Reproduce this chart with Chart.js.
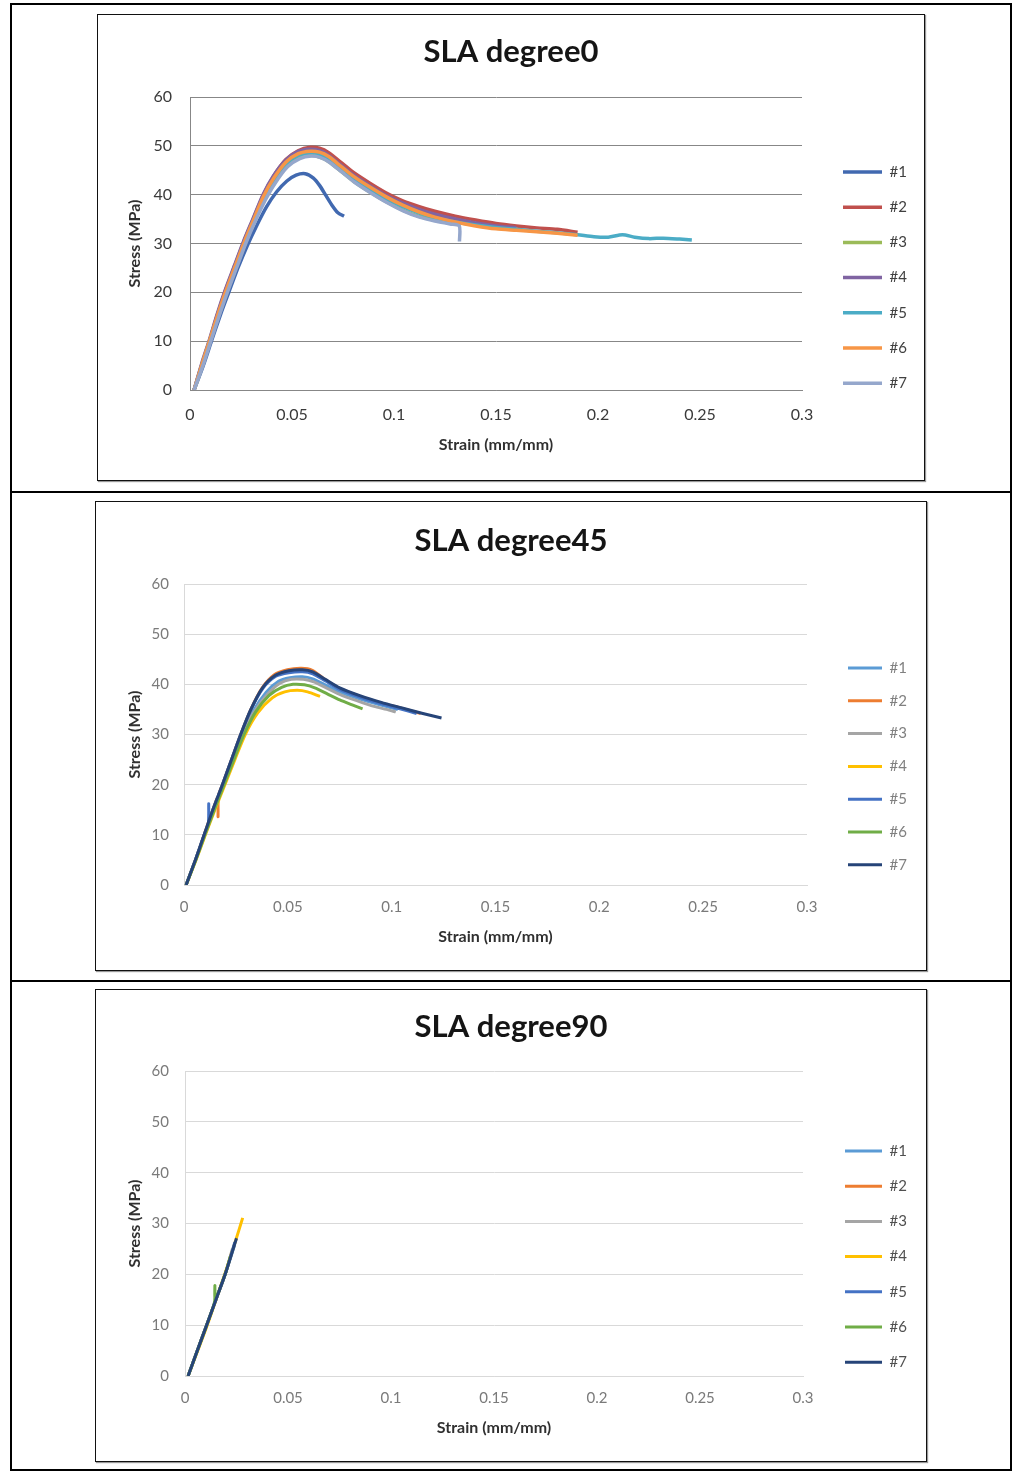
<!DOCTYPE html>
<html>
<head>
<meta charset="utf-8">
<script src="https://cdn.jsdelivr.net/npm/chart.js@4.4.1/dist/chart.umd.min.js"></script>
<style>
    body { margin: 0; background: #fff; width: 1027px; height: 1473px; position: relative; }
    .frame { position: absolute; left: 10px; top: 3px; width: 998px; height: 1464px; border: 2px solid #000; }
    .row-line { position: absolute; left: 10px; width: 1002px; height: 2px; background: #000; }
    .box { position: absolute; border: 1px solid #111; box-shadow: 1px 1px 1px #999; background: #fff; }
    .box canvas { display: block; }
</style>
</head>
<body>
<div class="frame"></div>
<div class="row-line" style="top:491px"></div>
<div class="row-line" style="top:980px"></div>
<div class="box" style="left:97px;top:14px"><canvas id="deg0Chart" width="826" height="465"></canvas></div>
<div class="box" style="left:95px;top:501px"><canvas id="deg45Chart" width="830" height="468"></canvas></div>
<div class="box" style="left:95px;top:989px"><canvas id="deg90Chart" width="830" height="471"></canvas></div>

<script>
// Datos: pares [deformación (mm/mm), esfuerzo (MPa)]
const seriesLabels = ['#1', '#2', '#3', '#4', '#5', '#6', '#7'];
const xTickValues = [0, 0.05, 0.1, 0.15, 0.2, 0.25, 0.3];
const xTickLabels = ['0', '0.05', '0.1', '0.15', '0.2', '0.25', '0.3'];
const yTickValues = [0, 10, 20, 30, 40, 50, 60];

// SLA degree0
const deg0_1 = [[0.002,0],[0.0065,5],[0.0105,10],[0.015,15.5],[0.019,20],[0.0235,25],[0.028,29.5],[0.0325,33.5],[0.0375,37.5],[0.0425,40.6],[0.0475,42.8],[0.052,44],[0.0565,44.3],[0.0605,43.4],[0.0635,41.9],[0.0665,39.9],[0.0695,37.9],[0.0725,36.3],[0.0755,35.6]];
const deg0_2 = [[0.002,0],[0.006,5.5],[0.0095,10],[0.0135,15.5],[0.0175,20.5],[0.022,25.5],[0.0265,30.5],[0.031,35],[0.036,40],[0.041,43.8],[0.047,47.2],[0.053,49],[0.059,49.7],[0.0635,49.5],[0.068,48.6],[0.074,46.6],[0.08,44.6],[0.088,42.4],[0.096,40.4],[0.104,38.8],[0.112,37.6],[0.12,36.6],[0.13,35.6],[0.14,34.8],[0.15,34.1],[0.16,33.6],[0.17,33.2],[0.18,32.9],[0.19,32.3]];
const deg0_3 = [[0.002,0],[0.0062,5.2],[0.0098,10],[0.014,15.2],[0.018,20],[0.0225,25],[0.027,30],[0.0315,34.5],[0.0365,39],[0.0415,42.8],[0.0475,46],[0.0535,47.6],[0.059,48],[0.0635,47.7],[0.068,46.8],[0.074,44.8],[0.08,42.8],[0.088,40.6],[0.096,38.6],[0.104,36.9],[0.112,35.6],[0.12,34.8],[0.126,34.3]];
const deg0_4 = [[0.002,0],[0.0058,5.5],[0.0093,10],[0.0133,15.5],[0.0173,20.5],[0.0218,25.5],[0.0263,30.5],[0.0308,35],[0.0358,40],[0.0408,43.8],[0.0468,47],[0.0528,48.8],[0.0585,49.3],[0.063,49.1],[0.0675,48.2],[0.0735,46.2],[0.0795,44.2],[0.0875,42],[0.0955,40],[0.1035,38.4],[0.1115,37.1],[0.12,36],[0.13,35],[0.14,34.2],[0.15,33.6],[0.16,33.2]];
const deg0_5 = [[0.002,0],[0.006,5.3],[0.0096,10],[0.0137,15.3],[0.0178,20.2],[0.0222,25.2],[0.0267,30.2],[0.0312,34.7],[0.0362,39.5],[0.0412,43.2],[0.0472,46.4],[0.0532,48.1],[0.059,48.6],[0.0635,48.3],[0.068,47.4],[0.074,45.4],[0.08,43.4],[0.088,41.2],[0.096,39.2],[0.104,37.6],[0.112,36.3],[0.12,35.3],[0.13,34.4],[0.14,33.8],[0.15,33.3],[0.16,32.9],[0.17,32.5],[0.18,32.2],[0.19,31.8],[0.198,31.4],[0.205,31.3],[0.212,31.8],[0.218,31.3],[0.225,31],[0.232,31.1],[0.24,30.9],[0.246,30.7]];
const deg0_6 = [[0.002,0],[0.006,5.4],[0.0095,10],[0.0136,15.4],[0.0176,20.3],[0.0221,25.3],[0.0266,30.3],[0.0311,34.8],[0.0361,39.7],[0.0411,43.4],[0.0471,46.7],[0.0531,48.4],[0.059,48.9],[0.0635,48.7],[0.068,47.8],[0.074,45.8],[0.08,43.8],[0.088,41.6],[0.096,39.6],[0.104,37.9],[0.112,36.5],[0.12,35.4],[0.13,34.4],[0.14,33.6],[0.15,33],[0.16,32.7],[0.17,32.4],[0.18,32.1],[0.19,31.7]];
const deg0_7 = [[0.002,0],[0.0065,5.2],[0.0102,10],[0.0143,15.2],[0.0183,20],[0.0228,25],[0.0273,30],[0.0318,34.4],[0.0368,38.8],[0.0418,42.4],[0.0478,45.7],[0.0538,47.4],[0.0595,47.9],[0.064,47.6],[0.0685,46.6],[0.0745,44.6],[0.0805,42.6],[0.0885,40.4],[0.0965,38.4],[0.1045,36.7],[0.1125,35.4],[0.12,34.6],[0.1275,34],[0.132,33.6],[0.1321,30.4]];

// SLA degree45
const deg45_1 = [[0.001,0],[0.0055,5],[0.0098,10],[0.0142,15],[0.0188,20],[0.0233,25],[0.028,30],[0.0332,34.6],[0.0395,38.4],[0.0455,40.6],[0.051,41.3],[0.057,41.5],[0.062,41.1],[0.068,39.9],[0.075,38.5],[0.083,37.3],[0.091,36.3],[0.098,35.5],[0.103,35]];
const deg45_2 = [[0.001,0],[0.0055,5],[0.0097,10],[0.0139,15],[0.0162,17.4],[0.0164,13.6],[0.0166,17.8],[0.0185,20],[0.0229,25],[0.0273,30],[0.0322,35],[0.0375,39.2],[0.0435,41.9],[0.0498,42.9],[0.0565,43.2],[0.0618,42.8],[0.0678,41],[0.0748,39.2],[0.0848,37.6],[0.0948,36.3],[0.105,35.2],[0.114,34.2]];
const deg45_3 = [[0.001,0],[0.0056,5],[0.0099,10],[0.0143,15],[0.019,20],[0.0236,25],[0.0283,30],[0.0336,34.4],[0.0402,38],[0.0462,40.2],[0.0517,41],[0.0575,41],[0.0625,40.5],[0.0685,39.3],[0.0755,37.9],[0.0835,36.7],[0.0915,35.6],[0.0975,35],[0.102,34.5]];
const deg45_4 = [[0.001,0],[0.0058,5],[0.0103,10],[0.0149,15],[0.0197,20],[0.0245,25],[0.0295,30],[0.0355,34.3],[0.0425,37.3],[0.0485,38.5],[0.0545,38.8],[0.0595,38.5],[0.0655,37.6]];
const deg45_5 = [[0.001,0],[0.0055,5],[0.0097,10],[0.0117,12.2],[0.0119,16.2],[0.0121,12.6],[0.0139,15],[0.0185,20],[0.0229,25],[0.0273,30],[0.0323,35],[0.038,39.2],[0.0442,41.6],[0.0505,42.3],[0.057,42.5],[0.062,42.1],[0.068,40.7],[0.075,39],[0.085,37.4],[0.095,36.1],[0.104,35.1],[0.112,34.2]];
const deg45_6 = [[0.001,0],[0.0057,5],[0.0101,10],[0.0146,15],[0.0193,20],[0.024,25],[0.0289,30],[0.0345,34.5],[0.041,37.8],[0.047,39.4],[0.0525,40],[0.058,39.9],[0.063,39.3],[0.069,38.1],[0.075,36.9],[0.081,35.9],[0.086,35.1]];
const deg45_7 = [[0.001,0],[0.0055,5],[0.0097,10],[0.0139,15],[0.0185,20],[0.0229,25],[0.0273,30],[0.0322,35],[0.0378,39.3],[0.044,41.8],[0.0505,42.7],[0.057,42.9],[0.062,42.5],[0.068,41],[0.075,39.3],[0.085,37.7],[0.095,36.4],[0.105,35.3],[0.115,34.2],[0.124,33.3]];

// SLA degree90
const deg90_1 = [[0.0015,0],[0.006,5],[0.0105,10],[0.015,15],[0.0195,20],[0.024,25.6]];
const deg90_2 = [[0.0015,0],[0.006,5],[0.0105,10],[0.015,15],[0.0195,20],[0.0225,24]];
const deg90_3 = [[0.0015,0],[0.006,5],[0.0105,10],[0.015,15],[0.0195,20],[0.023,25]];
const deg90_4 = [[0.0015,0],[0.0062,5],[0.0108,10],[0.0153,15.3],[0.0197,20.5],[0.0241,26],[0.028,31.1]];
const deg90_5 = [[0.0015,0],[0.006,5],[0.0105,10],[0.015,15],[0.0195,20],[0.0242,26.3]];
const deg90_6 = [[0.0015,0],[0.006,5],[0.0105,10],[0.0143,14.5],[0.0145,17.8],[0.0147,15.1],[0.0195,20],[0.022,23.5]];
const deg90_7 = [[0.0015,0],[0.006,5],[0.0105,10],[0.015,15],[0.0195,20],[0.025,27.1]];

// Colores (paleta Excel 2010 arriba, Excel 2013 en los otros dos)
const colors2010 = ['#4169b0', '#c0504d', '#9bbb59', '#8064a2', '#4bacc6', '#f79646', '#95a7cc'];
const colors2013 = ['#5b9bd5', '#ed7d31', '#a5a5a5', '#ffc000', '#4472c4', '#70ad47', '#264478'];


// Función que crea un panel del gráfico con el título, las series y el aspecto dados
function drawPanel(canvasId, title, series, colors, look) {
    const canvas = document.getElementById(canvasId);
    const W = canvas.width;
    const H = canvas.height;
    const legendPad = look.legendStep - look.legendFont;
    const titleLH = look.titleFont * 1.2;
    const titleTop = look.titleY - titleLH / 2;
    const tickLH = look.tickFont * 1.2;
    const axisLH = look.axisFont * 1.2;

    return new Chart(canvas.getContext('2d'), {
        type: 'line',
        data: {
            datasets: series.map((pts, i) => ({
                label: seriesLabels[i],
                data: pts.map(p => ({ x: p[0], y: p[1] })),
                borderColor: colors[i],
                backgroundColor: colors[i],
                borderWidth: look.lineWidth,
                pointRadius: 0,
                tension: 0.25,
                fill: false,
                order: series.length - i
            }))
        },
        options: {
            responsive: false,
            animation: false,
            layout: { padding: 0 },
            plugins: {
                title: {
                    display: true,
                    text: title,
                    color: '#151515',
                    font: { family: 'Lato', size: look.titleFont, weight: 'bold' },
                    // el título ocupa todo el espacio sobre el área del gráfico
                    padding: { top: titleTop, bottom: look.plot.top - titleTop - titleLH }
                },
                legend: {
                    position: 'right',
                    align: 'start',
                    reverse: true,
                    title: {
                        display: true,
                        text: '',
                        font: { size: 1 },
                        padding: { top: 0, bottom: look.legendFirst - legendPad - look.legendFont / 2 - 1.2 }
                    },
                    labels: {
                        usePointStyle: true,
                        pointStyle: 'line',
                        pointStyleWidth: look.lineLen,
                        padding: legendPad,
                        color: look.legendColor,
                        font: { family: 'Lato', size: look.legendFont }
                    }
                },
                tooltip: { enabled: false }
            },
            scales: {
                x: {
                    type: 'linear',
                    min: 0,
                    max: 0.3,
                    grid: { display: false, drawTicks: false },
                    border: { display: true, color: look.gridColor },
                    afterBuildTicks: s => { s.ticks = xTickValues.map(v => ({ value: v })); },
                    ticks: {
                        callback: (v, i) => xTickLabels[i],
                        color: look.tickColor,
                        padding: look.xLabelY - look.plot.bottom - tickLH / 2,
                        maxRotation: 0,
                        font: { family: 'Lato', size: look.tickFont }
                    },
                    title: {
                        display: true,
                        text: 'Strain (mm/mm)',
                        color: '#303030',
                        font: { family: 'Lato', size: look.axisFont, weight: 'bold' },
                        padding: { top: 0, bottom: H - look.xTitleY - axisLH / 2 }
                    },
                    afterFit: s => {
                        s.height = H - look.plot.bottom;
                        s.paddingRight = W - look.plot.right;
                    }
                },
                y: {
                    type: 'linear',
                    min: 0,
                    max: 60,
                    grid: { color: look.gridColor, drawTicks: false },
                    border: { display: true, color: look.gridColor },
                    afterBuildTicks: s => { s.ticks = yTickValues.map(v => ({ value: v })); },
                    ticks: {
                        color: look.tickColor,
                        padding: look.yLabelPad,
                        font: { family: 'Lato', size: look.tickFont }
                    },
                    title: {
                        display: true,
                        text: 'Stress (MPa)',
                        color: '#303030',
                        font: { family: 'Lato', size: look.axisFont, weight: 'bold' },
                        padding: { top: look.yTitleX - axisLH / 2, bottom: 0 }
                    },
                    afterFit: s => {
                        s.width = look.plot.left;
                        s.paddingTop = 0;
                    }
                },
                // eje vacío que separa la leyenda del área del gráfico
                gap: {
                    type: 'linear',
                    position: 'right',
                    display: true,
                    grid: { display: false, drawTicks: false },
                    border: { display: false },
                    ticks: { display: false },
                    afterFit: s => { s.width = look.lineStart - look.plot.right - legendPad; }
                }
            }
        }
    });
}


// Panel superior: SLA degree0
drawPanel('deg0Chart', 'SLA degree0',
    [deg0_1, deg0_2, deg0_3, deg0_4, deg0_5, deg0_6, deg0_7], colors2010, {
        plot: { left: 92, right: 704, top: 82, bottom: 375 },
        titleY: 37, titleFont: 31,
        legendFirst: 157, legendStep: 35.2, legendFont: 15, lineStart: 745, lineLen: 39, legendColor: '#404040',
        tickFont: 16, tickColor: '#3a3a3a', axisFont: 16,
        yTitleX: 37, yLabelPad: 18, xLabelY: 400, xTitleY: 430,
        gridColor: '#878787', lineWidth: 3.5
    });

// Panel central: SLA degree45
drawPanel('deg45Chart', 'SLA degree45',
    [deg45_1, deg45_2, deg45_3, deg45_4, deg45_5, deg45_6, deg45_7], colors2013, {
        plot: { left: 88, right: 711, top: 82, bottom: 383 },
        titleY: 39, titleFont: 31,
        legendFirst: 166, legendStep: 32.8, legendFont: 15, lineStart: 752, lineLen: 34, legendColor: '#808080',
        tickFont: 15, tickColor: '#7a7a7a', axisFont: 16,
        yTitleX: 39, yLabelPad: 15, xLabelY: 405, xTitleY: 435,
        gridColor: '#d9d9d9', lineWidth: 3
    });

// Panel inferior: SLA degree90
drawPanel('deg90Chart', 'SLA degree90',
    [deg90_1, deg90_2, deg90_3, deg90_4, deg90_5, deg90_6, deg90_7], colors2013, {
        plot: { left: 89, right: 707, top: 81, bottom: 386 },
        titleY: 37, titleFont: 31,
        legendFirst: 161, legendStep: 35.2, legendFont: 15, lineStart: 749, lineLen: 37, legendColor: '#505050',
        tickFont: 15, tickColor: '#7a7a7a', axisFont: 16,
        yTitleX: 39, yLabelPad: 16, xLabelY: 408, xTitleY: 438,
        gridColor: '#d9d9d9', lineWidth: 3
    });
</script>
</body>
</html>
